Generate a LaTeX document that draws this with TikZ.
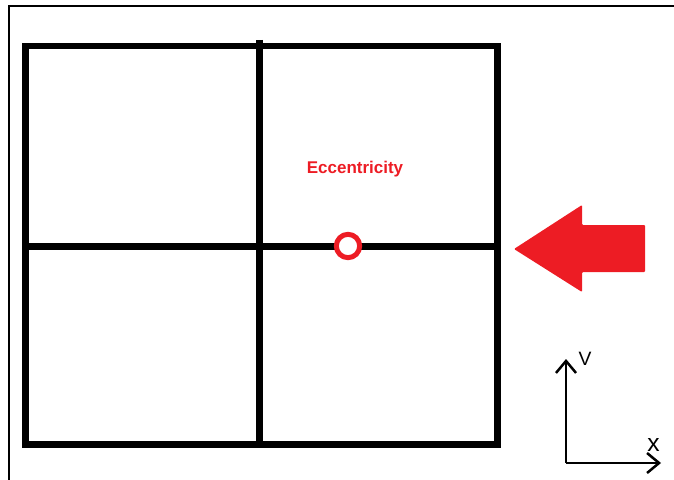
\documentclass[tikz,border=0pt]{standalone}
\usepackage{fontspec}
\setmainfont{Liberation Sans}
\usetikzlibrary{arrows.meta}
\definecolor{paintred}{HTML}{ED1C24}

\begin{document}
\begin{tikzpicture}[x=0.03cm, y=-0.03cm]

\tikzset{frame/.style = {line width=0.06cm}}
\tikzset{grid/.style = {line width=0.195cm, line cap=rect}}
\tikzset{axis/.style = {line width=0.075cm, -{Straight Barb[length=0.36cm, width=0.6cm, line width=0.075cm]}}}
\tikzset{axislabel/.style = {inner sep=0pt, font=\fontsize{16.5}{16.5}\selectfont}}
\useasboundingbox (0,0) rectangle (674,480);
%frame
\draw[frame] (9,480) -- (9,6) -- (674,6);
%grid
\draw[grid] (25.5,46) rectangle (497.5,444.5);
\draw[grid, line cap=butt] (259.5,40) -- (259.5,448);
\draw[grid, line cap=butt] (22,246.5) -- (500.5,246.5);
%eccentricity
\node[circle, draw=paintred, fill=white, line width=0.15cm, minimum size=0.7cm, inner sep=0pt] (ecc) at (348,246) {};
\node[text=paintred, font=\bfseries\fontsize{14.5}{14.5}\selectfont] (ecclabel) at (355,169.5) {Eccentricity};
%load arrow
\fill[paintred, rounded corners=0.03cm] (514,249) -- (582,205) -- (582,225) -- (645,225) -- (645,272) -- (582,272) -- (582,292) -- cycle;
%axes
\coordinate (origin) at (566,463);
\coordinate (vtip) at (566,359);
\coordinate (xtip) at (661,463);
\draw[axis] (origin) -- (vtip);
\draw[axis] (origin) -- (xtip);
\node[axislabel] (vlabel) at (585,359) {V};
\node[axislabel, font=\fontsize{21}{21}\selectfont] (xlabel) at (653.5,445) {x};

\end{tikzpicture}
\end{document}
